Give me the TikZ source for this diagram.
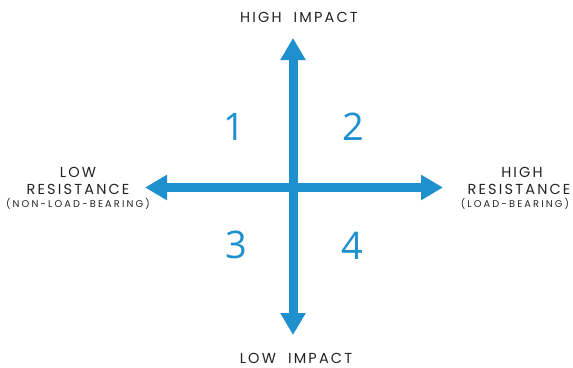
\documentclass[tikz,border=0pt]{standalone}
\usepackage{fontspec}
\usetikzlibrary{arrows.meta}
\newfontfamily\labfont[LetterSpace=15,WordSpace=2]{Poppins}
\newfontfamily\subfont[LetterSpace=22]{Poppins}
\newfontfamily\numfont{Open Sans}
\definecolor{axisblue}{RGB}{30,144,206}
\definecolor{labgray}{RGB}{35,35,35}
\tikzset{
  axis/.style={draw=axisblue, line width=9pt, -{Triangle[width=24pt,length=22pt]}},
  lab/.style={inner sep=0pt, text=labgray, font=\labfont\fontsize{14.5}{16}\selectfont},
  sublab/.style={inner sep=0pt, text=labgray, font=\subfont\fontsize{9.8}{11}\selectfont},
  quad/.style={inner sep=0pt, text=axisblue, font=\numfont\fontsize{38}{40}\selectfont}
}
\begin{document}
\begin{tikzpicture}[x=1pt,y=-1pt]
\useasboundingbox (0,0) rectangle (573,367);
\coordinate (c) at (293,187.5);
\coordinate (top) at (293,38);
\coordinate (bot) at (293,335);
\coordinate (left) at (145,187.5);
\coordinate (right) at (443,187.5);
\draw[axis] (c) -- (top);
\draw[axis] (c) -- (bot);
\draw[axis] (c) -- (left);
\draw[axis] (c) -- (right);
\node[lab] (hi) at (299,17.5) {HIGH IMPACT};
\node[lab] (lo) at (296,358) {LOW IMPACT};
\node[lab] (l1) at (78,172) {LOW};
\node[lab] (l2) at (78,189) {RESISTANCE};
\node[sublab] (l3) at (78,204) {(NON-LOAD-BEARING)};
\node[lab] (r1) at (522,172) {HIGH};
\node[lab] (r2) at (519,189) {RESISTANCE};
\node[sublab] (r3) at (515,204) {(LOAD-BEARING)};
\node[quad] (q1) at (234,127) {1};
\node[quad] (q2) at (353,127) {2};
\node[quad] (q3) at (236,245) {3};
\node[quad] (q4) at (352,246) {4};
\end{tikzpicture}
\end{document}
